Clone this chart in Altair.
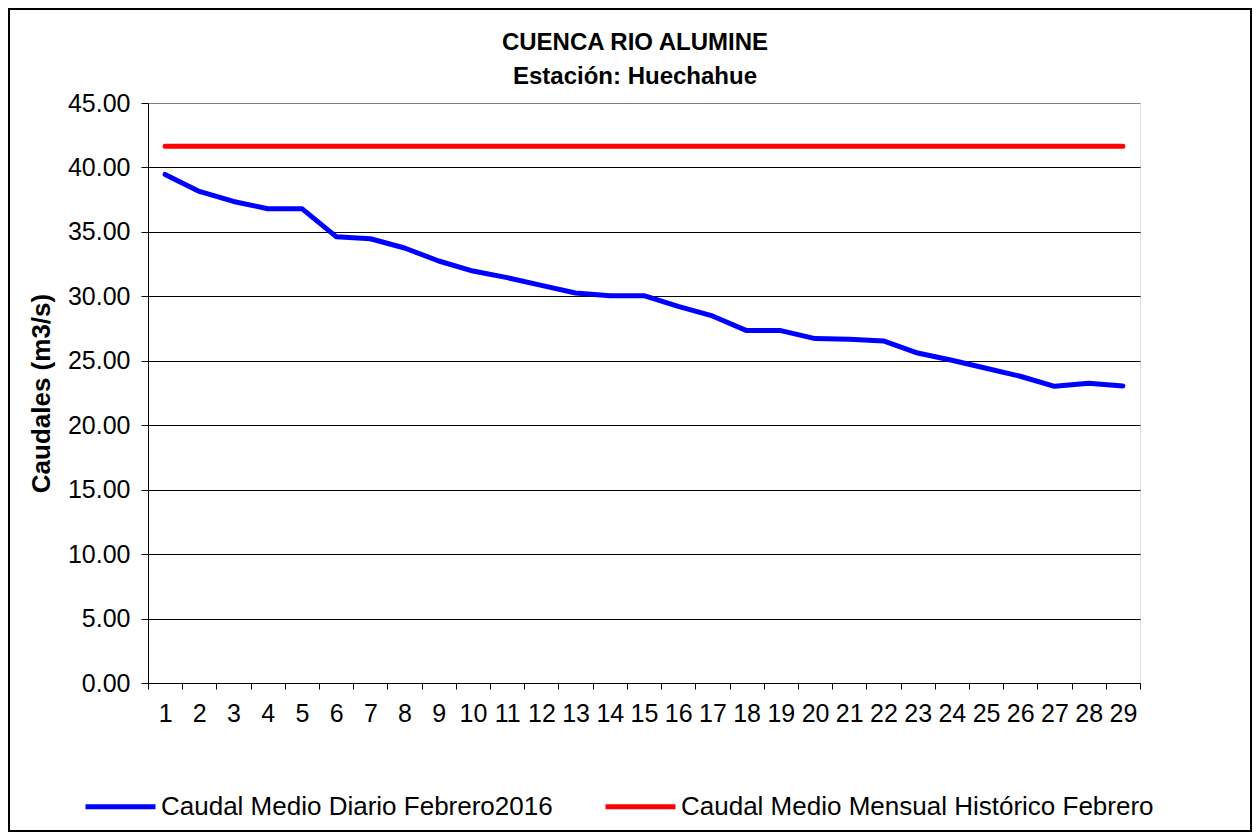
import altair as alt
import pandas as pd

days = list(range(1, 30))
diario = [39.46, 38.14, 37.36, 36.80, 36.80, 34.63, 34.47, 33.75, 32.74, 31.96,
          31.45, 30.85, 30.26, 30.05, 30.05, 29.22, 28.48, 27.34, 27.34, 26.72,
          26.67, 26.54, 25.60, 25.04, 24.42, 23.80, 23.02, 23.26, 23.05]
historico_val = 41.65
historico = [historico_val] * len(days)

s1 = "Caudal Medio Diario Febrero2016"
s2 = "Caudal Medio Mensual Histórico Febrero"
y_ticks = [0, 5, 10, 15, 20, 25, 30, 35, 40, 45]

df = pd.DataFrame({
    "dia": days * 2,
    "caudal": diario + historico,
    "serie": [s1] * len(days) + [s2] * len(days),
})

FONT = "Liberation Sans"

lines = alt.Chart(df).mark_line(strokeWidth=5, strokeCap="round", strokeJoin="round").encode(
    x=alt.X("dia:O", title=None, bandPosition=0.5,
            scale=alt.Scale(type="band", paddingInner=0, paddingOuter=0),
            axis=alt.Axis(labelAngle=0, labelFontSize=25, labelFont=FONT, labelColor="black",
                          domainColor="black", tickColor="black", tickSize=6,
                          tickBand="extent", labelPadding=12, labelOverlap=False,
                          labelBound=False, grid=False)),
    y=alt.Y("caudal:Q", title="Caudales (m3/s)",
            scale=alt.Scale(domain=[0, 45], nice=False, zero=True),
            axis=alt.Axis(values=y_ticks, format=".2f", labelFontSize=25, labelFont=FONT,
                          labelColor="black", domainColor="black", tickColor="black",
                          tickSize=7, labelPadding=11, titleFont=FONT, titleFontSize=26,
                          titleFontWeight="bold", titleColor="black", titlePadding=13,
                          grid=True,
                          gridColor={"condition": {"test": "datum.value >= 45", "value": "#808080"},
                                     "value": "#000000"},
                          gridWidth=1)),
    color=alt.Color("serie:N", sort=[s1, s2],
                    scale=alt.Scale(domain=[s1, s2], range=["#0000FF", "#FF0000"]),
                    legend=alt.Legend(title=None, orient="none", direction="horizontal",
                                      legendX=-65, legendY=666, symbolType="stroke",
                                      symbolSize=4900, symbolStrokeWidth=5,
                                      labelFont=FONT, labelFontSize=26, labelColor="black",
                                      labelOffset=3, columnPadding=42, labelLimit=700)),
)

frame = alt.Chart(df).mark_rect(fillOpacity=0, stroke="black", strokeWidth=2).encode(
    x=alt.value(-139), x2=alt.value(1103), y=alt.value(-94), y2=alt.value(728)
)

chart = alt.layer(frame, lines).properties(
    width=992, height=580,
    title=alt.TitleParams(text=["CUENCA RIO ALUMINE", "Estación: Huechahue"],
                          font=FONT, fontSize=24, fontWeight="bold", color="black",
                          anchor="middle", dx=-9, offset=-81, lineHeight=34),
    autosize=alt.AutoSizeParams(type="none"),
    padding={"left": 140, "top": 95, "right": 112, "bottom": 149},
).configure_view(stroke="#808080", strokeWidth=1.5).configure(background="white")

chart.save("out.html", embed_options={"renderer": "svg", "actions": False})
